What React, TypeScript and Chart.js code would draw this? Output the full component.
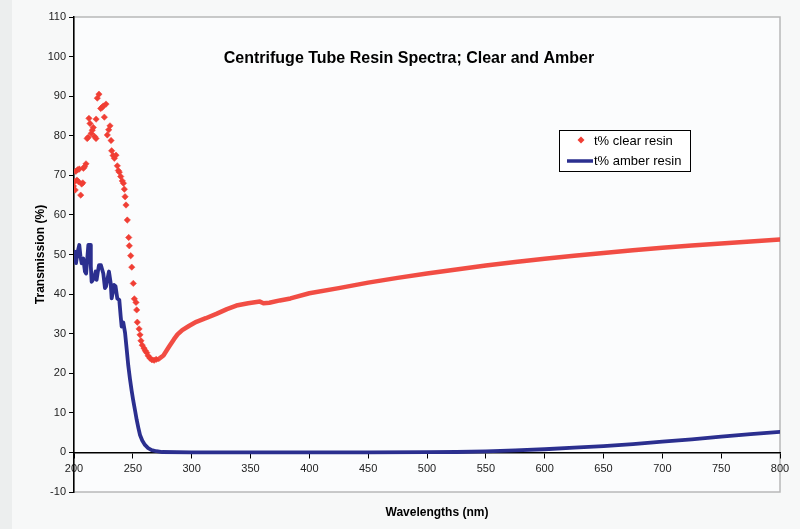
import React, { useEffect, useRef } from 'react';
import { Chart, registerables } from 'chart.js';

Chart.register(...registerables);

// ---- Data ----
const clearScatterNm = [
  199.5, 200.5, 201.0, 201.5, 202.5, 203.0, 203.8, 204.5, 205.7, 206.5, 207.5, 208.0, 209.0, 210.2,
  211.2, 212.0, 212.7, 213.6, 214.6, 215.5, 216.4, 217.5, 218.7, 218.8, 219.8, 221.2, 222.7, 224.0,
  224.9, 225.8, 227.2, 228.3, 229.5, 230.6, 231.5, 232.0, 233.2, 234.3, 235.7, 236.8, 237.7, 238.5,
  239.7, 241.0, 242.0, 242.8, 243.4, 244.2, 245.3, 246.5, 247.0, 248.2, 249.1, 250.4, 251.3, 252.7,
  253.3, 253.8, 255.3, 256.1, 256.9, 258.0, 259.5, 260.6, 261.8, 263.0, 264.6, 266.2, 268.0, 269.8,
];
const clearScatterT = [
  67.3, 68.4, 66.3, 71.0, 68.8, 71.4, 68.4, 71.6, 65.0, 67.8, 68.1, 71.8, 72.2, 72.9,
  79.3, 79.6, 84.4, 83.1, 80.6, 81.4, 82.1, 79.8, 79.3, 84.2, 89.5, 90.5, 86.9, 87.2,
  87.5, 84.7, 88.0, 80.2, 81.5, 82.5, 78.8, 76.2, 75.0, 74.3, 75.1, 72.4, 71.2, 70.8,
  69.7, 68.6, 68.0, 66.5, 64.6, 62.5, 58.7, 54.3, 52.2, 49.7, 46.8, 42.7, 38.8, 37.9,
  36.0, 32.9, 31.2, 29.7, 28.2, 27.1, 26.3, 25.7, 25.2, 24.4, 23.8, 23.4, 23.3, 23.5,
];
const clearSmoothNm = [
  271.6, 276, 281, 285, 288, 292, 298, 304, 312, 321, 330, 338, 348, 358, 361, 366, 375, 384,
  400, 425, 450, 475, 500, 525, 550, 575, 600, 625, 650, 675, 700, 725, 750, 775, 800,
];
const clearSmoothT = [
  23.5, 24.5, 26.8, 28.6, 29.8, 30.9, 32.0, 33.0, 33.9, 35.0, 36.2, 37.1, 37.7, 38.1, 37.7, 37.8, 38.4, 38.9,
  40.2, 41.5, 42.9, 44.1, 45.2, 46.2, 47.2, 48.1, 48.9, 49.7, 50.4, 51.1, 51.7, 52.3, 52.8, 53.3, 53.8,
];
const amberNm = [
  200, 201, 201.7, 203, 204.5, 205.5, 206.5, 207.9, 209.3, 210.3, 211.3, 212.2, 213.6, 214.3, 215,
  217, 218.4, 219.2, 220.2, 221.2, 222.9, 224.9, 226.3, 227.3, 228.3, 229.7, 231.2, 232, 233, 234,
  235.3, 236.8, 238.5, 239.7, 240.5, 241.9, 243.4, 244.8, 246.1, 247.6, 249, 250.4, 252, 253.3,
  254.7, 256.1, 258, 260.3, 263, 266, 270, 275, 300, 350, 400, 450, 500, 525, 550, 575, 600, 625,
  650, 675, 700, 725, 750, 775, 800,
];
const amberT = [
  49.5, 50.7, 47.8, 50.5, 52.4, 49.5, 47.8, 49.0, 45.7, 45.2, 49.0, 52.4, 52.4, 47.0, 43.1,
  44.0, 45.7, 43.6, 45.5, 47.3, 47.3, 45.2, 41.5, 42.0, 43.6, 45.7, 42.7, 38.9, 40.5, 42.3,
  42.0, 38.9, 38.5, 34.3, 31.8, 32.8, 30.2, 26.0, 22.0, 18.5, 15.6, 13.0, 10.4, 8.2,
  6.2, 4.4, 3.0, 1.9, 1.1, 0.6, 0.3, 0.1, 0, 0, 0, 0, 0.05, 0.1, 0.25, 0.5, 0.8, 1.2,
  1.6, 2.1, 2.7, 3.3, 4.0, 4.6, 5.2,
];

const TITLE = 'Centrifuge Tube Resin Spectra; Clear and Amber';
const X_TITLE = 'Wavelengths (nm)';
const Y_TITLE = 'Transmission (%)';
const SERIES_NAMES = ['t% clear resin', 't% amber resin'];

const FONT = '"Liberation Sans", Arial, Helvetica, sans-serif';
const RED = 'rgb(240,62,52)';
const BLUE = '#2b2f8f';

const decorPlugin = {
  id: 'decor',
  beforeDraw(chart: any) {
    const { ctx, chartArea: a, width, height } = chart;
    ctx.save();
    ctx.fillStyle = '#f7f8f8';
    ctx.fillRect(0, 0, width, height);
    ctx.fillStyle = '#eceeee';
    ctx.fillRect(0, 0, 12, height);
    ctx.fillStyle = '#fbfcfd';
    ctx.fillRect(a.left, a.top, a.right - a.left, a.bottom - a.top);
    ctx.strokeStyle = '#b8b8b8';
    ctx.lineWidth = 1.5;
    ctx.strokeRect(a.left, a.top, a.right - a.left, a.bottom - a.top);
    ctx.restore();
  },
  afterDraw(chart: any) {
    const { ctx, chartArea: a } = chart;
    ctx.save();
    // Title
    ctx.fillStyle = '#000';
    ctx.font = `bold 16px ${FONT}`;
    ctx.textAlign = 'center';
    ctx.textBaseline = 'middle';
    ctx.fillText(TITLE, 409, 59);
    // X title
    ctx.font = `bold 12px ${FONT}`;
    ctx.fillText(X_TITLE, 437, 513);
    // Y title
    ctx.save();
    ctx.translate(41, (a.top + a.bottom) / 2);
    ctx.rotate(-Math.PI / 2);
    ctx.fillText(Y_TITLE, 0, 0);
    ctx.restore();
    // Legend
    ctx.fillStyle = '#ffffff';
    ctx.fillRect(559.5, 130.5, 131, 41);
    ctx.strokeStyle = '#000';
    ctx.lineWidth = 1;
    ctx.strokeRect(559.5, 130.5, 131, 41);
    ctx.fillStyle = RED;
    ctx.beginPath();
    ctx.moveTo(581, 136.5);
    ctx.lineTo(584.5, 140);
    ctx.lineTo(581, 143.5);
    ctx.lineTo(577.5, 140);
    ctx.closePath();
    ctx.fill();
    ctx.strokeStyle = BLUE;
    ctx.lineWidth = 3.5;
    ctx.beginPath();
    ctx.moveTo(567, 161);
    ctx.lineTo(593, 161);
    ctx.stroke();
    ctx.fillStyle = '#000';
    ctx.font = `13px ${FONT}`;
    ctx.textAlign = 'left';
    ctx.fillText(SERIES_NAMES[0], 594, 141);
    ctx.fillText(SERIES_NAMES[1], 594, 161);
    ctx.restore();
  },
};

export default function App() {
  const canvasRef = useRef<HTMLCanvasElement | null>(null);

  useEffect(() => {
    document.body.style.margin = '0';
    const canvas = canvasRef.current;
    if (!canvas) return;
    const N = clearScatterNm.length;
    const clearData = clearScatterNm
      .map((x, i) => ({ x, y: clearScatterT[i] }))
      .concat(clearSmoothNm.map((x, i) => ({ x, y: clearSmoothT[i] })));
    const amberData = amberNm.map((x, i) => ({ x, y: amberT[i] }));

    const chart = new Chart(canvas, {
      type: 'line',
      data: {
        datasets: [
          {
            label: SERIES_NAMES[0],
            data: clearData,
            showLine: true,
            borderWidth: 4.5,
            borderColor: RED,
            backgroundColor: RED,
            borderJoinStyle: 'round',
            borderCapStyle: 'round',
            pointStyle: 'rectRot',
            pointRadius: (c: any) => (c.dataIndex < N ? 3.2 : 0),
            pointBorderWidth: 0.5,
            pointBorderColor: RED,
            pointBackgroundColor: RED,
            segment: {
              borderColor: (c: any) => (c.p0DataIndex < N ? 'rgba(0,0,0,0)' : 'rgba(240,62,52,0.92)'),
            },
            tension: 0,
          } as any,
          {
            label: SERIES_NAMES[1],
            data: amberData,
            borderColor: BLUE,
            backgroundColor: BLUE,
            borderWidth: 3.8,
            borderJoinStyle: 'round',
            borderCapStyle: 'round',
            pointRadius: 0,
            tension: 0,
          } as any,
        ],
      },
      options: {
        animation: false,
        responsive: true,
        maintainAspectRatio: false,
        layout: { padding: { left: 0, top: 17, right: 20, bottom: 37 } },
        plugins: {
          legend: { display: false },
          title: { display: false },
          tooltip: { enabled: false },
        },
        scales: {
          x: {
            type: 'linear',
            position: { y: 0 } as any,
            min: 200,
            max: 800,
            ticks: {
              stepSize: 50,
              color: '#222',
              font: { size: 11, family: FONT },
              padding: 5,
              maxRotation: 0,
            },
            grid: { drawOnChartArea: false, tickLength: 5, color: '#000' },
            border: { color: '#000', width: 1.5 },
          },
          y: {
            type: 'linear',
            min: -10,
            max: 110,
            ticks: {
              stepSize: 10,
              color: '#222',
              font: { size: 11, family: FONT },
              padding: 3,
            },
            grid: { drawOnChartArea: false, tickLength: 5, color: '#000' },
            border: { color: '#000', width: 1.5 },
            afterFit(s: any) {
              s.width = 74;
            },
          },
        },
      } as any,
      plugins: [decorPlugin],
    });
    return () => chart.destroy();
  }, []);

  return (
    <div style={{ width: 800, height: 529, position: 'relative' }}>
      <canvas ref={canvasRef} />
    </div>
  );
}
